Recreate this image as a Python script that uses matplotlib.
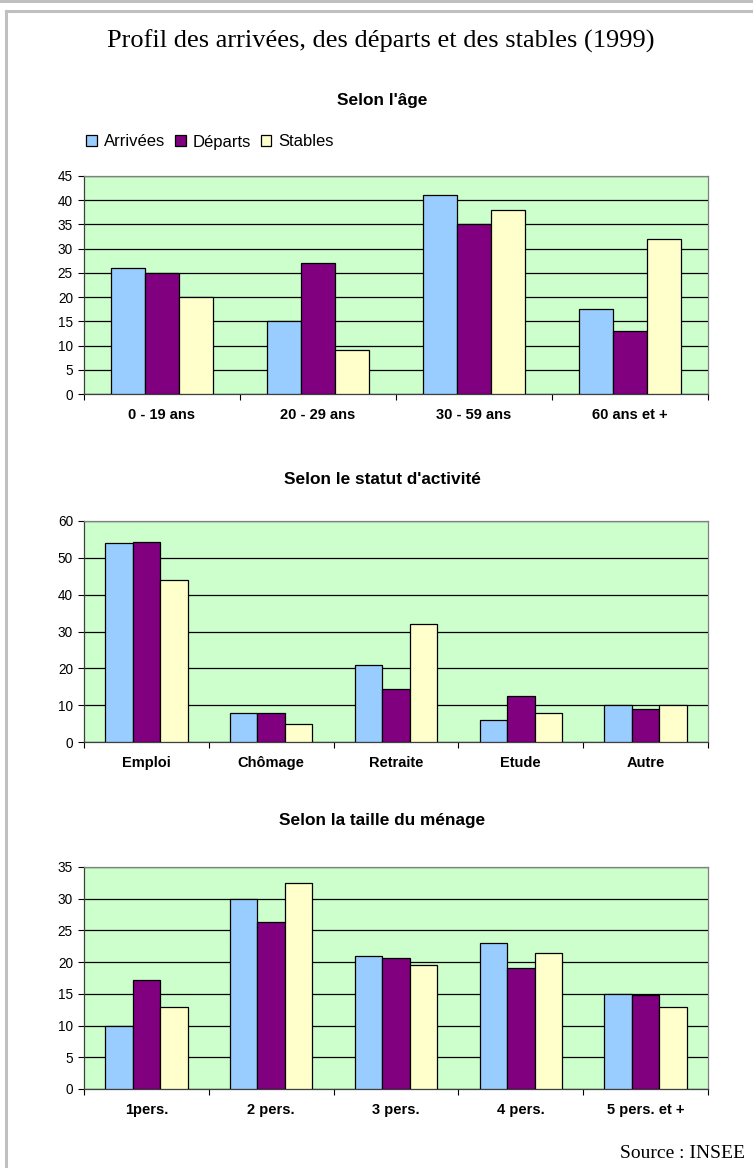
import numpy as np
import matplotlib
matplotlib.use("Agg")
import matplotlib.pyplot as plt
from matplotlib.patches import Rectangle

plt.rcParams['font.family'] = ['Liberation Sans', 'DejaVu Sans']

series = ["Arrivées", "Départs", "Stables"]
colors = ["#99CCFF", "#800080", "#FFFFCC"]

age_cats = ["0 - 19 ans", "20 - 29 ans", "30 - 59 ans", "60 ans et +"]
age_arr = [26, 15, 41, 17.5]
age_dep = [25, 27, 35, 13]
age_sta = [20, 9, 38, 32]

act_cats = ["Emploi", "Chômage", "Retraite", "Etude", "Autre"]
act_arr = [54, 8, 21, 6, 10]
act_dep = [54.2, 8, 14.3, 12.6, 9]
act_sta = [44, 5, 32, 7.8, 10]

men_cats = ["1pers.", "2 pers.", "3 pers.", "4 pers.", "5 pers. et +"]
men_arr = [10, 30, 20.9, 23, 14.9]
men_dep = [17.2, 26.3, 20.7, 19, 14.8]
men_sta = [13, 32.5, 19.5, 21.4, 13]

W, H = 753, 1168
fig = plt.figure(figsize=(W / 100, H / 100), dpi=100)
fig.patch.set_facecolor("white")

# page frame
fig.add_artist(Rectangle((0, 1 - 3 / H), 1, 3 / H, transform=fig.transFigure,
                         facecolor="#C0C0C0", edgecolor="none"))
fig.add_artist(plt.Line2D([6 / W, 6 / W], [0, 1 - 11 / H], transform=fig.transFigure,
                          color="#C0C0C0", lw=2.2))
fig.add_artist(plt.Line2D([6 / W, 1], [1 - 11 / H, 1 - 11 / H], transform=fig.transFigure,
                          color="#C0C0C0", lw=2.2))

fig.text(381 / W, 1 - 41 / H, "Profil des arrivées, des départs et des stables (1999)",
         ha="center", va="center", fontsize=19, family=["Liberation Serif", "DejaVu Serif"])


def panel(top, bottom, cats, vals, ymax, ystep, title, title_y):
    left, right = 84, 708
    ax = fig.add_axes([left / W, 1 - bottom / H, (right - left) / W, (bottom - top) / H])
    ax.set_facecolor("#CCFFCC")
    n = len(cats)
    x = np.arange(n)
    bw = 0.22
    for i, (v, c) in enumerate(zip(vals, colors)):
        ax.bar(x + (i - 1) * bw, v, width=bw, color=c, edgecolor="black", linewidth=0.9,
               zorder=3, label=series[i])
    ax.set_xlim(-0.5, n - 0.5)
    ax.set_ylim(0, ymax)
    ax.set_yticks(np.arange(0, ymax + 0.01, ystep))
    ax.yaxis.grid(True, color="black", linewidth=0.9, zorder=1)
    ax.set_axisbelow(True)
    ax.set_xticks(np.arange(-0.5, n, 1.0))
    ax.set_xticklabels([])
    ax.set_xticks(x, minor=True)
    ax.set_xticklabels(cats, minor=True, fontsize=10.5, fontweight="bold")
    ax.tick_params(axis="x", which="minor", length=0, pad=10)
    ax.tick_params(axis="x", which="major", length=4, color="black", width=0.8)
    ax.tick_params(axis="y", length=4, labelsize=9.8, pad=4, width=0.8)
    for s in ["top", "right"]:
        ax.spines[s].set_color("#808080")
        ax.spines[s].set_linewidth(0.9)
    for s in ["left", "bottom"]:
        ax.spines[s].set_color("#404040")
        ax.spines[s].set_linewidth(0.9)
    fig.text(382 / W, 1 - title_y / H, title, ha="center", va="center",
             fontsize=12.4, fontweight="bold")
    return ax


ax1 = panel(176, 394, age_cats, [age_arr, age_dep, age_sta], 45, 5, "Selon l'âge", 100)
panel(521, 742, act_cats, [act_arr, act_dep, act_sta], 60, 10, "Selon le statut d'activité", 480)
panel(867, 1089, men_cats, [men_arr, men_dep, men_sta], 35, 5, "Selon la taille du ménage", 820)

handles, labels = ax1.get_legend_handles_labels()
fig.legend(handles, labels, loc="center left", bbox_to_anchor=(86 / W, 1 - 142 / H),
           ncol=3, frameon=False, fontsize=12, handlelength=0.65, handleheight=0.65,
           handletextpad=0.4, columnspacing=0.6, borderpad=0, borderaxespad=0)

fig.text(620 / W, 1 - 1154 / H, "Source : INSEE", ha="left", va="center",
         fontsize=14, family=["Liberation Serif", "DejaVu Serif"])

fig.savefig("out.png", dpi=100, facecolor="white")
